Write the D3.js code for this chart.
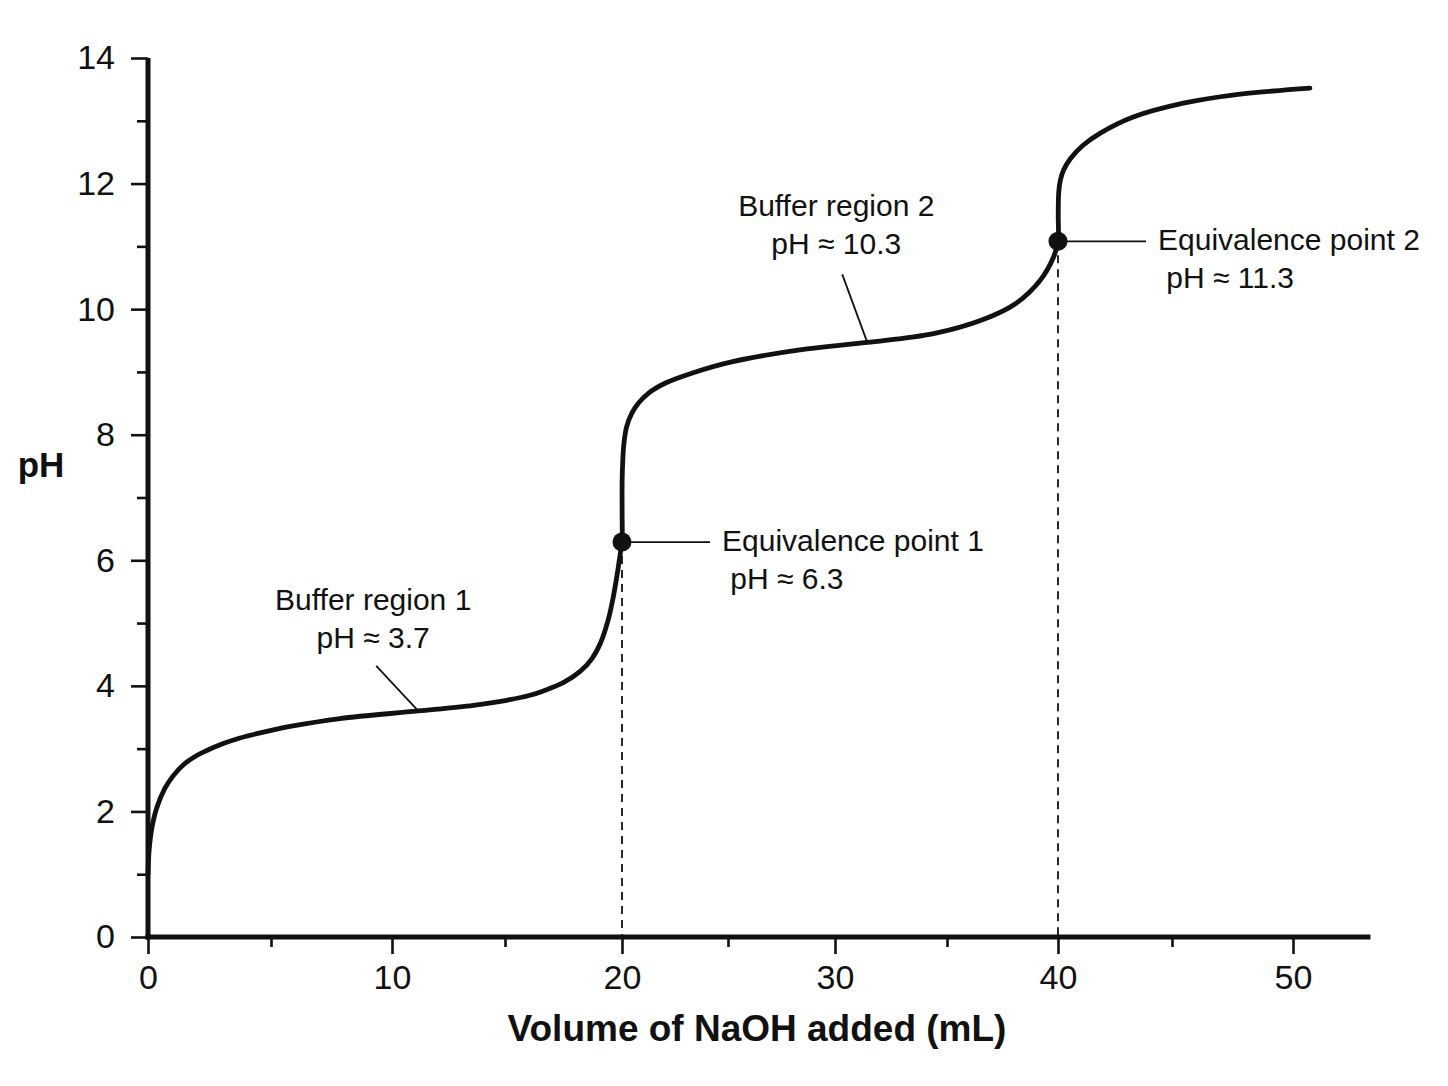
<!DOCTYPE html>
<html>
<head>
<meta charset="utf-8">
<script src="https://cdn.jsdelivr.net/npm/d3@7"></script>
<style>
  body { margin: 0; background: #fff; }
  text { font-family: "Liberation Sans", Arial, Helvetica, sans-serif; fill: #111; }
</style>
</head>
<body>
<script>
// curve
const volume = [0, 0.05, 0.15, 0.35, 0.69, 1.03, 1.43, 1.98, 2.39, 3.06, 3.74, 5.1, 5.79, 7.85, 11.16, 13.6,
  15.07, 16.07, 16.64, 17.49, 18.21, 18.71, 19.09, 19.41, 19.63, 19.8, 19.94, 20.0, 20.005, 20.01, 20.09, 20.22,
  20.46, 20.77, 21.24, 22.03, 23.29, 25.17, 28.36, 31.44, 34.4, 36.6, 38.1, 39.2, 39.8, 40.0, 40.01, 40.03,
  40.1, 40.25, 40.55, 41.1, 41.84, 43.3, 45.47, 47.5, 50.7]
const ph = [1.0, 1.4, 1.72, 2.05, 2.37, 2.57, 2.74, 2.89, 2.97, 3.08, 3.17, 3.30, 3.355, 3.48, 3.60, 3.69,
  3.77, 3.85, 3.92, 4.05, 4.23, 4.43, 4.69, 5.05, 5.42, 5.79, 6.14, 6.29, 6.8, 7.33, 7.86, 8.13,
  8.34, 8.50, 8.66, 8.82, 8.98, 9.16, 9.35, 9.47, 9.61, 9.83, 10.09, 10.46, 10.83, 11.08, 11.5, 11.85,
  12.05, 12.22, 12.4, 12.61, 12.8, 13.06, 13.28, 13.41, 13.52]

const equivVolume = [20, 40]
const equivPh = [6.29, 11.08]
const equivLabels = [["Equivalence point 1", " pH \u2248 6.3"], ["Equivalence point 2", " pH \u2248 11.3"]]

const bufferVolume = [11.16, 31.44]
const bufferPh = [3.60, 9.47]
const bufferLabels = [["Buffer region 1", "pH \u2248 3.7"], ["Buffer region 2", "pH \u2248 10.3"]]

const xMajor = [0, 10, 20, 30, 40, 50]
const xMinor = [5, 15, 25, 35, 45]
const yMajor = [0, 2, 4, 6, 8, 10, 12, 14]
const yMinor = [1, 3, 5, 7, 9, 11, 13]
const xTitle = "Volume of NaOH added (mL)"
const yTitle = "pH"

// layout
const width = 1448
const height = 1086
const xBreaks = [0, 5, 10, 15, 20, 25, 30, 35, 40, 45, 50]
const xPixels = [148, 271, 392, 505, 622, 728, 835, 947, 1058, 1172, 1293]
const xAxisEnd = 53.2

const x = d3.scaleLinear().domain(xBreaks).range(xPixels)
const y = d3.scaleLinear().domain([0, 14]).range([937, 58])

const svg = d3.select("body").append("svg")
  .attr("width", width)
  .attr("height", height)

// axes
const xAxis = svg.append("g")
  .attr("transform", `translate(0,${y(0)})`)
xAxis.append("g")
  .call(d3.axisBottom(x).tickValues(xMinor).tickSize(10).tickFormat(""))
xAxis.append("g")
  .call(d3.axisBottom(x).tickValues(xMajor).tickSize(17).tickPadding(11).tickFormat(d3.format("d")))
xAxis.selectAll(".domain").remove()
xAxis.selectAll("line").attr("stroke", "#111").attr("stroke-width", 2.6)
xAxis.selectAll("text").style("font-size", "34px").attr("fill", "#111")

const yAxis = svg.append("g")
  .attr("transform", `translate(${x(0)},0)`)
yAxis.append("g")
  .call(d3.axisLeft(y).tickValues(yMinor).tickSize(11).tickFormat(""))
yAxis.append("g")
  .call(d3.axisLeft(y).tickValues(yMajor).tickSize(17).tickPadding(16).tickFormat(d3.format("d")))
yAxis.selectAll(".domain").remove()
yAxis.selectAll("line").attr("stroke", "#111").attr("stroke-width", 2.6)
yAxis.selectAll("text").style("font-size", "34px").attr("fill", "#111")

svg.append("line")
  .attr("x1", x(0) - 2.5).attr("x2", x(xAxisEnd))
  .attr("y1", y(0)).attr("y2", y(0))
  .attr("stroke", "#111").attr("stroke-width", 5)
svg.append("line")
  .attr("x1", x(0)).attr("x2", x(0))
  .attr("y1", y(0) + 2.5).attr("y2", y(14))
  .attr("stroke", "#111").attr("stroke-width", 5)

// dashed drops from the equivalence points
svg.selectAll(".drop")
  .data(equivVolume)
  .enter()
  .append("line")
  .attr("x1", d => x(d)).attr("x2", d => x(d))
  .attr("y1", (d, i) => y(equivPh[i])).attr("y2", y(0))
  .attr("stroke", "#111").attr("stroke-width", 1.8)
  .attr("stroke-dasharray", "8,6")

// titration curve
const pts = volume.map((v, i) => [v, ph[i]])
svg.append("path")
  .datum(pts)
  .attr("fill", "none")
  .attr("stroke", "#111")
  .attr("stroke-width", 4.8)
  .attr("stroke-linecap", "round")
  .attr("stroke-linejoin", "round")
  .attr("d", d3.line().x(d => x(d[0])).y(d => y(d[1])).curve(d3.curveCatmullRom.alpha(0.5)))

// equivalence points
equivVolume.forEach((v, i) => {
  const px = x(v), py = y(equivPh[i])
  const g = svg.append("g")
  g.append("line")
    .attr("x1", px).attr("x2", px + 88)
    .attr("y1", py).attr("y2", py)
    .attr("stroke", "#111").attr("stroke-width", 1.8)
  g.append("circle")
    .attr("cx", px).attr("cy", py).attr("r", 9.5)
    .attr("fill", "#111")
  g.selectAll("text")
    .data(equivLabels[i])
    .enter()
    .append("text")
    .attr("x", px + 100)
    .attr("y", (d, j) => py + 9 + j * 38)
    .style("font-size", "30px")
    .style("white-space", "pre")
    .text(d => d)
})

// buffer region call-outs
const bufferOffsets = [{lx: -42, ly: -45, tx: -45, ty: -101}, {lx: -25, ly: -68, tx: -31, ty: -126}]
bufferVolume.forEach((v, i) => {
  const px = x(v), py = y(bufferPh[i])
  const o = bufferOffsets[i]
  const g = svg.append("g")
  g.append("line")
    .attr("x1", px + o.lx).attr("y1", py + o.ly)
    .attr("x2", px).attr("y2", py)
    .attr("stroke", "#111").attr("stroke-width", 1.8)
  g.selectAll("text")
    .data(bufferLabels[i])
    .enter()
    .append("text")
    .attr("x", px + o.tx)
    .attr("y", (d, j) => py + o.ty + j * 38)
    .attr("text-anchor", "middle")
    .style("font-size", "30px")
    .text(d => d)
})

// titles
svg.append("text")
  .attr("x", 757).attr("y", 1041)
  .attr("text-anchor", "middle")
  .style("font-size", "37px")
  .style("font-weight", "bold")
  .text(xTitle)
svg.append("text")
  .attr("x", 41).attr("y", 477)
  .attr("text-anchor", "middle")
  .style("font-size", "35px")
  .style("font-weight", "bold")
  .text(yTitle)
</script>
</body>
</html>
